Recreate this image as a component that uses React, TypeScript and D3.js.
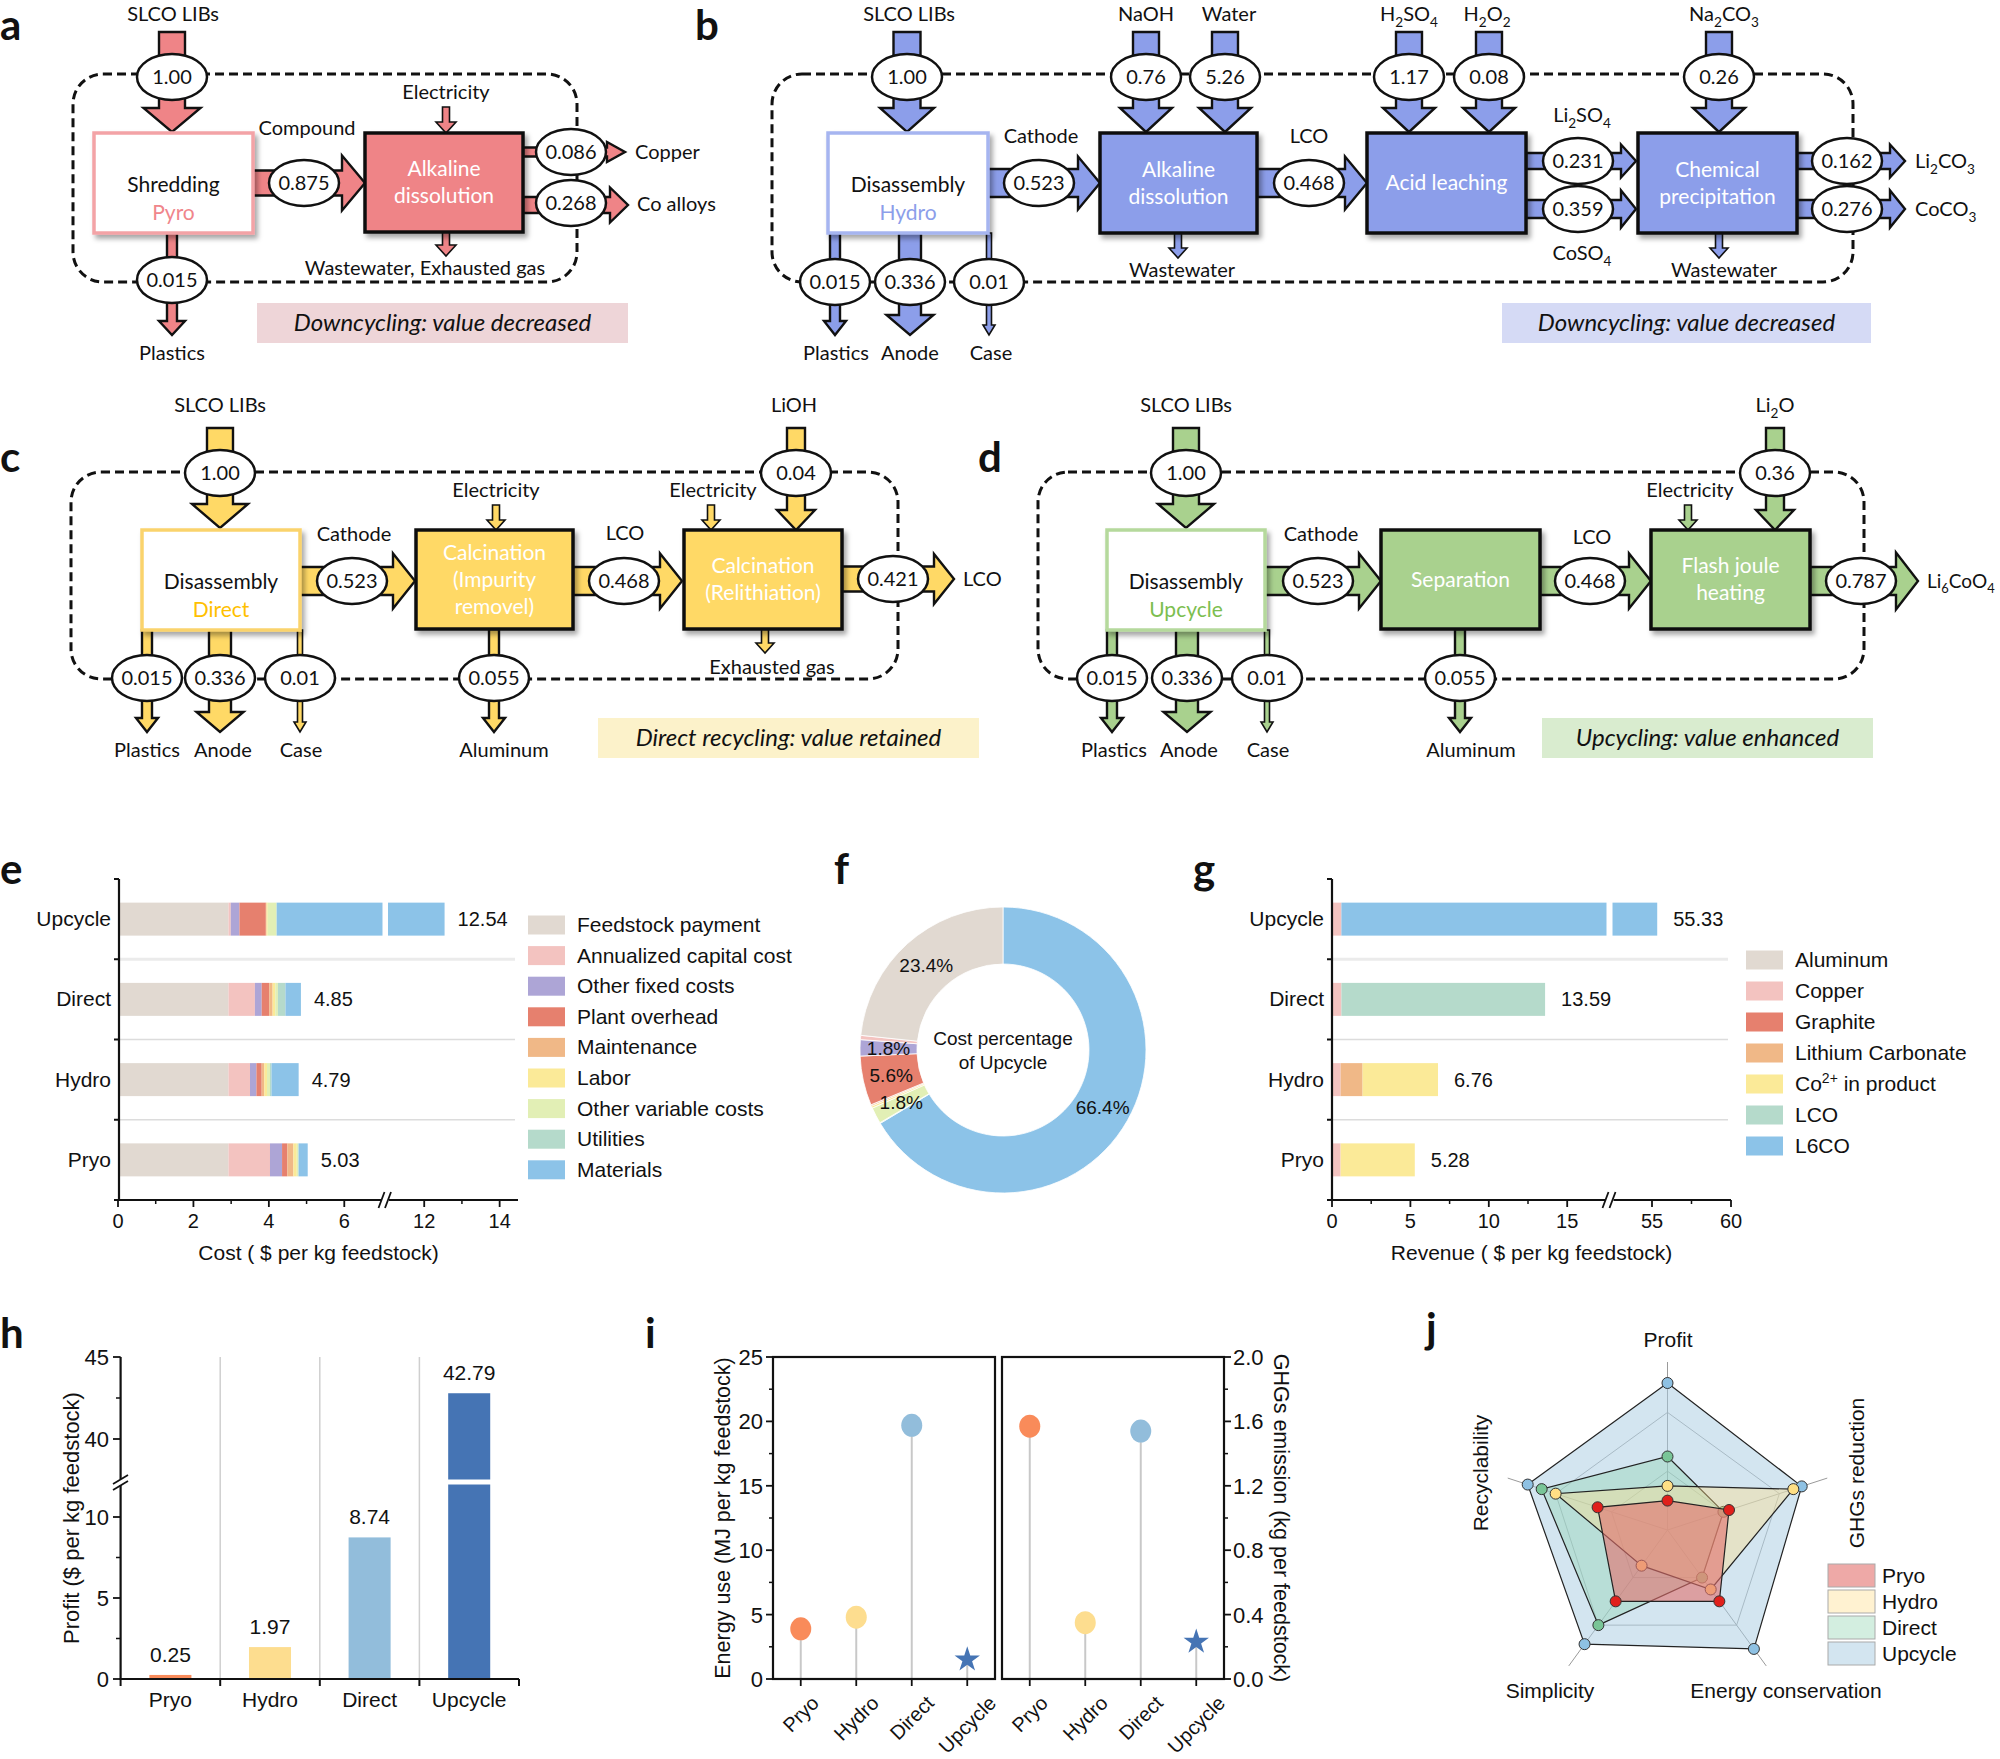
import React from "react";
import * as d3 from "d3";

const FLOW_FONT = "Lato, 'Open Sans', sans-serif";
const CHART_FONT = "'Liberation Sans', Arial, Helvetica, sans-serif";

// ---------------- Data ----------------
const methodsTopDown = ["Upcycle", "Direct", "Hydro", "Pryo"];
const methodsLR = ["Pryo", "Hydro", "Direct", "Upcycle"];

const costCategories = ["Feedstock payment", "Annualized capital cost", "Other fixed costs", "Plant overhead", "Maintenance", "Labor", "Other variable costs", "Utilities", "Materials"];
const costColors = ["#E1D9D1", "#F3C3C0", "#ADA5D6", "#E6806E", "#F0B887", "#FBEA98", "#E2EFB5", "#B5DACB", "#8CC3E8"];
const costUpcycle = [2.93, 0.06, 0.23, 0.70, 0.02, 0.03, 0.23, 0.01, 8.33];
const costDirect = [2.93, 0.70, 0.18, 0.20, 0.09, 0.07, 0.07, 0.20, 0.41];
const costHydro = [2.93, 0.57, 0.17, 0.14, 0.07, 0.07, 0.08, 0.04, 0.72];
const costPryo = [2.93, 1.10, 0.32, 0.14, 0.16, 0.09, 0.04, 0.01, 0.24];
const costTotals = [12.54, 4.85, 4.79, 5.03];
const costTicksMajor = [0, 2, 4, 6, 12, 14];
const costTicksMinor = [1, 3, 5, 13];

const revenueCategories = ["Aluminum", "Copper", "Graphite", "Lithium Carbonate", "Co2+ in product", "LCO", "L6CO"];
const revenueColors = ["#E1D9D1", "#F3C3C0", "#E6806E", "#F0B887", "#FBEA98", "#B5DACB", "#8CC3E8"];
const revenueUpcycle = [0.05, 0.55, 0, 0, 0, 0, 54.73];
const revenueDirect = [0.05, 0.55, 0, 0, 0, 12.99, 0];
const revenueHydro = [0, 0.55, 0, 1.40, 4.81, 0, 0];
const revenuePryo = [0, 0.55, 0, 0, 4.73, 0, 0];
const revenueTotals = [55.33, 13.59, 6.76, 5.28];
const revenueTicksMajor = [0, 5, 10, 15, 55, 60];
const revenueTicksMinor = [2.5, 7.5, 12.5, 57.5];

const profitValues = [0.25, 1.97, 8.74, 42.79];
const methodColors = ["#F98B5A", "#FDDD8F", "#92BDDB", "#4574B4"];
const profitTicksMajor = [0, 5, 10, 40, 45];
const profitTicksMinor = [2.5, 7.5, 42.5];

const energyValues = [3.9, 4.8, 19.7, 1.5];
const ghgValues = [1.57, 0.35, 1.54, 0.23];
const energyTicks = [0, 5, 10, 15, 20, 25];
const ghgTicks = [0, 0.4, 0.8, 1.2, 1.6, 2.0];

const radarAxes = ["Profit", "GHGs reduction", "Energy conservation", "Simplicity", "Recyclability"];
const radarNames = ["Pryo", "Hydro", "Direct", "Upcycle"];
const radarPryo = [1.0, 2.2, 3.0, 3.0, 2.5];
const radarHydro = [1.5, 4.5, 2.5, 1.5, 4.0];
const radarDirect = [2.5, 2.0, 2.0, 4.0, 4.5];
const radarUpcycle = [5.0, 4.8, 5.0, 4.8, 5.0];
const radarFill = ["#E3706C", "#FFDE8C", "#91D4B2", "#A8CBE2"];
const radarFillOpacity = [0.6, 0.4, 0.4, 0.5];
const radarPointColor = ["#E0201B", "#FFDF85", "#79C597", "#8EC1E3"];

// ---------------- Flow diagram layouts ----------------
const panelA = {
  color: "#EF8487", light: "#F3A3A6", sub: "#F0868B", tagFill: "#EED5D8",
  frame: [73, 74, 504, 208],
  arrows: [
    ["d", 172, 32, 100, 26, 57, 24], ["d", 172, 233, 102, 10, 26, 14], ["r", 253, 183, 112, 25, 55, 23],
    ["d", 446, 107, 26, 7, 20, 11], ["d", 446, 232, 24, 7, 20, 11], ["r", 523, 152, 102, 9, 20, 18], ["r", 523, 205, 105, 16, 35, 18],
  ],
  boxes: [
    { x: 94, y: 133, w: 159, h: 100, outline: true, lines: ["Shredding"], sub: "Pyro" },
    { x: 365, y: 133, w: 158, h: 99, lines: ["Alkaline", "dissolution"] },
  ],
  ovals: [[172, 77, "1.00"], [172, 280, "0.015"], [304, 183, "0.875"], [571, 152, "0.086"], [571, 203, "0.268"]],
  texts: [["SLCO LIBs", 173, 21, "middle"], ["Compound", 307, 135, "middle"], ["Electricity", 446, 99, "middle"], ["Copper", 635, 159, "start"], ["Co alloys", 637, 211, "start"], ["Wastewater, Exhausted gas", 425, 275, "middle"], ["Plastics", 172, 360, "middle"]],
  tag: [257, 303, 371, 40, "Downcycling: value decreased"],
  letter: ["a", 0, 40],
};
const panelB = {
  color: "#8C9EEA", light: "#A6B5F0", sub: "#8C9EEA", tagFill: "#D5DAF5",
  frame: [772, 74, 1081, 208],
  arrows: [
    ["d", 907, 32, 100, 27, 54, 24], ["d", 1146, 32, 100, 26, 52, 24], ["d", 1225, 32, 100, 26, 52, 24], ["d", 1409, 32, 100, 26, 52, 24], ["d", 1489, 32, 100, 26, 52, 24], ["d", 1719, 32, 100, 26, 52, 24],
    ["d", 835, 233, 102, 10, 22, 14], ["d", 910, 233, 102, 22, 47, 20], ["d", 989, 233, 102, 5, 12, 10],
    ["r", 988, 183, 112, 28, 53, 22], ["r", 1257, 183, 110, 28, 53, 22],
    ["d", 1178, 233, 25, 7, 18, 10], ["d", 1719, 233, 25, 7, 18, 10],
    ["r", 1526, 161, 110, 16, 33, 15], ["r", 1526, 209, 110, 18, 37, 15],
    ["r", 1797, 161, 108, 16, 33, 15], ["r", 1797, 209, 108, 18, 37, 15],
  ],
  boxes: [
    { x: 828, y: 133, w: 160, h: 100, outline: true, lines: ["Disassembly"], sub: "Hydro" },
    { x: 1100, y: 133, w: 157, h: 100, lines: ["Alkaline", "dissolution"] },
    { x: 1367, y: 133, w: 159, h: 100, lines: ["Acid leaching"] },
    { x: 1638, y: 133, w: 159, h: 100, lines: ["Chemical", "precipitation"] },
  ],
  ovals: [[907, 77, "1.00"], [1146, 77, "0.76"], [1225, 77, "5.26"], [1409, 77, "1.17"], [1489, 77, "0.08"], [1719, 77, "0.26"],
    [835, 282, "0.015"], [910, 282, "0.336"], [989, 282, "0.01"], [1039, 183, "0.523"], [1309, 183, "0.468"],
    [1578, 161, "0.231"], [1578, 209, "0.359"], [1847, 161, "0.162"], [1847, 209, "0.276"]],
  texts: [["SLCO LIBs", 909, 21, "middle"], ["NaOH", 1146, 21, "middle"], ["Water", 1229, 21, "middle"], ["H2SO4", 1409, 21, "middle"], ["H2O2", 1487, 21, "middle"], ["Na2CO3", 1724, 21, "middle"],
    ["Cathode", 1041, 143, "middle"], ["LCO", 1309, 143, "middle"], ["Li2SO4", 1582, 122, "middle"], ["CoSO4", 1582, 260, "middle"],
    ["Wastewater", 1182, 277, "middle"], ["Wastewater", 1724, 277, "middle"], ["Li2CO3", 1915, 168, "start"], ["CoCO3", 1915, 216, "start"],
    ["Plastics", 836, 360, "middle"], ["Anode", 910, 360, "middle"], ["Case", 991, 360, "middle"]],
  tag: [1502, 303, 369, 40, "Downcycling: value decreased"],
  letter: ["b", 695, 40],
};
const panelC = {
  color: "#FFD966", light: "#FAD36C", sub: "#FFC000", tagFill: "#FCF2CA",
  frame: [71, 472, 827, 207],
  arrows: [
    ["d", 220, 428, 100, 26, 56, 24], ["d", 796, 428, 102, 18, 38, 20], ["d", 496, 505, 25, 7, 18, 10], ["d", 711, 505, 25, 7, 18, 10],
    ["d", 147, 630, 102, 10, 22, 14], ["d", 220, 630, 102, 22, 47, 20], ["d", 300, 630, 102, 5, 12, 10], ["d", 494, 629, 103, 10, 22, 14],
    ["r", 300, 581, 115, 28, 55, 22], ["r", 573, 581, 109, 28, 55, 22], ["d", 765, 629, 24, 7, 18, 10], ["r", 842, 579, 112, 25, 50, 20],
  ],
  boxes: [
    { x: 142, y: 530, w: 158, h: 100, outline: true, lines: ["Disassembly"], sub: "Direct" },
    { x: 416, y: 530, w: 157, h: 99, lines: ["Calcination", "(Impurity", "removel)"] },
    { x: 684, y: 530, w: 158, h: 99, lines: ["Calcination", "(Relithiation)"] },
  ],
  ovals: [[220, 473, "1.00"], [796, 473, "0.04"], [147, 678, "0.015"], [220, 678, "0.336"], [300, 678, "0.01"], [494, 678, "0.055"], [352, 581, "0.523"], [624, 581, "0.468"], [893, 579, "0.421"]],
  texts: [["SLCO LIBs", 220, 412, "middle"], ["LiOH", 794, 412, "middle"], ["Electricity", 496, 497, "middle"], ["Electricity", 713, 497, "middle"],
    ["Cathode", 354, 541, "middle"], ["LCO", 625, 540, "middle"], ["Exhausted gas", 772, 674, "middle"], ["LCO", 963, 586, "start"],
    ["Plastics", 147, 757, "middle"], ["Anode", 223, 757, "middle"], ["Case", 301, 757, "middle"], ["Aluminum", 504, 757, "middle"]],
  tag: [598, 718, 381, 40, "Direct recycling: value retained"],
  letter: ["c", 0, 472],
};
const panelD = {
  color: "#A9D18E", light: "#B5D99C", sub: "#7CBE50", tagFill: "#D9ECCF",
  frame: [1038, 472, 826, 207],
  arrows: [
    ["d", 1186, 428, 100, 26, 56, 24], ["d", 1775, 428, 102, 18, 38, 20], ["d", 1688, 505, 25, 7, 18, 10],
    ["d", 1112, 630, 102, 10, 22, 14], ["d", 1187, 630, 102, 22, 47, 20], ["d", 1267, 630, 102, 5, 12, 10], ["d", 1460, 629, 103, 10, 22, 14],
    ["r", 1265, 581, 116, 28, 55, 22], ["r", 1540, 581, 111, 28, 55, 22], ["r", 1810, 581, 108, 28, 57, 22],
  ],
  boxes: [
    { x: 1107, y: 530, w: 158, h: 100, outline: true, lines: ["Disassembly"], sub: "Upcycle" },
    { x: 1381, y: 530, w: 159, h: 99, lines: ["Separation"] },
    { x: 1651, y: 530, w: 159, h: 99, lines: ["Flash joule", "heating"] },
  ],
  ovals: [[1186, 473, "1.00"], [1775, 473, "0.36"], [1112, 678, "0.015"], [1187, 678, "0.336"], [1267, 678, "0.01"], [1460, 678, "0.055"], [1318, 581, "0.523"], [1590, 581, "0.468"], [1861, 581, "0.787"]],
  texts: [["SLCO LIBs", 1186, 412, "middle"], ["Li2O", 1775, 412, "middle"], ["Electricity", 1690, 497, "middle"], ["Cathode", 1321, 541, "middle"], ["LCO", 1592, 544, "middle"],
    ["Li6CoO4", 1927, 588, "start", 19], ["Plastics", 1114, 757, "middle"], ["Anode", 1189, 757, "middle"], ["Case", 1268, 757, "middle"], ["Aluminum", 1471, 757, "middle"]],
  tag: [1542, 718, 331, 40, "Upcycling: value enhanced"],
  letter: ["d", 978, 472],
};

// ---------------- helpers ----------------
function arrowPath(a: any[]) {
  const [d, x, y, len, sw, hw, hl] = a;
  if (d === "d") {
    const y1 = y + len, yh = y1 - hl;
    return `M${x - sw / 2},${y}H${x + sw / 2}V${yh}H${x + hw / 2}L${x},${y1}L${x - hw / 2},${yh}H${x - sw / 2}Z`;
  }
  const x1 = x + len, xh = x1 - hl;
  return `M${x},${y - sw / 2}H${xh}V${y - hw / 2}L${x1},${y}L${xh},${y + hw / 2}V${y + sw / 2}H${x}Z`;
}

function chem(s: string, fs: number) {
  const parts = s.match(/\d+|\D+/g) || [];
  let down = false;
  return parts.map((p, i) => {
    if (/^\d+$/.test(p)) {
      const el = <tspan key={i} dy={down ? 0 : fs * 0.28} fontSize={fs * 0.68}>{p}</tspan>;
      down = true;
      return el;
    }
    const el = <tspan key={i} dy={down ? -fs * 0.28 : 0}>{p}</tspan>;
    down = false;
    return el;
  });
}

let _ctx: any = null;
function measure(text: string, font: string) {
  if (!_ctx) _ctx = document.createElement("canvas").getContext("2d");
  _ctx.font = font;
  return _ctx.measureText(text).width;
}

function FlowPanel({ p }: any) {
  const [fx, fy, fw, fh] = p.frame;
  return (
    <g fontFamily={FLOW_FONT} fill="#111">
      <rect x={fx} y={fy} width={fw} height={fh} rx={30} fill="none" stroke="#111" strokeWidth={3} strokeDasharray="9 5" />
      {p.arrows.map((a: any, i: number) => (
        <path key={i} d={arrowPath(a)} fill={p.color} stroke="#111" strokeWidth={a[4] <= 7 ? 1.6 : 2.4} />
      ))}
      {p.boxes.map((b: any, i: number) => {
        const cx = b.x + b.w / 2, cy = b.y + b.h / 2;
        if (b.outline) {
          return (
            <g key={i}>
              <rect x={b.x} y={b.y} width={b.w} height={b.h} fill="#fff" stroke={p.light} strokeWidth={3.5} filter="url(#shadow)" />
              <text x={cx} y={cy + 9} textAnchor="middle" fontSize={21} fill="#111">{b.lines[0]}</text>
              <text x={cx} y={cy + 37} textAnchor="middle" fontSize={21} fill={p.sub}>{b.sub}</text>
            </g>
          );
        }
        const n = b.lines.length;
        return (
          <g key={i}>
            <rect x={b.x} y={b.y} width={b.w} height={b.h} fill={p.color} stroke="#111" strokeWidth={3.5} filter="url(#shadow)" />
            {b.lines.map((l: string, j: number) => (
              <text key={j} x={cx} y={cy - (n - 1) * 13.5 + j * 27 + 7} textAnchor="middle" fontSize={21} fill="#fff">{l}</text>
            ))}
          </g>
        );
      })}
      {p.ovals.map((o: any, i: number) => (
        <g key={i}>
          <ellipse cx={o[0]} cy={o[1]} rx={35} ry={23} fill="#fff" stroke="#111" strokeWidth={2.5} />
          <text x={o[0]} y={o[1] + 7} textAnchor="middle" fontSize={20}>{o[2]}</text>
        </g>
      ))}
      {p.texts.map((t: any, i: number) => (
        <text key={i} x={t[1]} y={t[2]} textAnchor={t[3]} fontSize={t[4] || 20}>{chem(t[0], t[4] || 20)}</text>
      ))}
      <rect x={p.tag[0]} y={p.tag[1]} width={p.tag[2]} height={p.tag[3]} fill={p.tagFill} />
      <text x={p.tag[0] + p.tag[2] / 2} y={p.tag[1] + p.tag[3] / 2 + 8} textAnchor="middle" fontSize={24} fontStyle="italic">{p.tag[4]}</text>
      <text x={p.letter[1]} y={p.letter[2]} fontSize={42} fontWeight="bold">{p.letter[0]}</text>
    </g>
  );
}

// ---------------- Stacked bar chart (e, g) ----------------
function StackedBars({ categories, colors, series, totals, seg1, seg2, gap, axisX0, axisX1, ticksMajor, ticksMinor, labelOffset, title, legendX, legendY0, legendStep, letter, letterX }: any) {
  const y = d3.scaleBand().domain(methodsTopDown).range([879, 1200]).paddingInner(0.589).paddingOuter(0.2945);
  const x1 = d3.scaleLinear().domain(seg1[0]).range(seg1[1]);
  const x2 = d3.scaleLinear().domain(seg2[0]).range(seg2[1]);
  const sx = (v: number) => (v <= seg1[0][1] ? x1(v) : v < seg2[0][0] ? x1(seg1[0][1]) : x2(v));
  const rows = methodsTopDown.map((m, i) => {
    const o: any = { method: m };
    categories.forEach((c: string, j: number) => (o[c] = series[i][j]));
    return o;
  });
  const stacked = d3.stack().keys(categories)(rows);
  const bw = y.bandwidth();
  const step = y.step();
  return (
    <g fontFamily={CHART_FONT} fill="#111">
      {[1, 2, 3].map((k) => (
        <line key={k} x1={axisX0 + 1} x2={axisX1 - 3} y1={879 + step * k} y2={879 + step * k} stroke={k === 1 ? "#EBEBEB" : "#DCDCDC"} strokeWidth={k === 1 ? 3 : 1.5} />
      ))}
      {stacked.map((layer: any, li: number) =>
        layer.map((d: any, di: number) => {
          const xa = sx(d[0]), xb = sx(d[1]);
          if (xb - xa <= 0) return null;
          return <rect key={`${li}-${di}`} x={xa} y={y(methodsTopDown[di])} width={xb - xa} height={bw} fill={colors[li]} />;
        })
      )}
      {totals.map((t: number, i: number) =>
        t > seg1[0][1] ? <rect key={`g${i}`} x={gap[0]} y={y(methodsTopDown[i])! - 1} width={gap[1] - gap[0]} height={bw + 2} fill="#fff" /> : null
      )}
      {totals.map((t: number, i: number) => (
        <text key={`t${i}`} x={sx(t) + labelOffset} y={y(methodsTopDown[i])! + bw / 2 + 7} fontSize={20}>{t.toFixed(2)}</text>
      ))}
      {methodsTopDown.map((m) => (
        <text key={m} x={axisX0 - 8} y={y(m)! + bw / 2 + 7} textAnchor="end" fontSize={21}>{m}</text>
      ))}
      <line x1={axisX0} x2={axisX0} y1={879} y2={1201} stroke="#111" strokeWidth={2.2} />
      {[0, 1, 2, 3, 4].map((k) => (
        <line key={k} x1={axisX0 - 5} x2={axisX0} y1={879 + step * k} y2={879 + step * k} stroke="#111" strokeWidth={2} />
      ))}
      <line x1={axisX0 - 1} x2={axisX1} y1={1200} y2={1200} stroke="#111" strokeWidth={2.2} />
      {ticksMajor.map((t: number) => (
        <g key={t}>
          <line x1={sx(t)} x2={sx(t)} y1={1200} y2={1207} stroke="#111" strokeWidth={1.8} />
          <text x={sx(t)} y={1228} textAnchor="middle" fontSize={20}>{t}</text>
        </g>
      ))}
      {ticksMinor.map((t: number) => (
        <line key={t} x1={sx(t)} x2={sx(t)} y1={1200} y2={1204} stroke="#111" strokeWidth={1.5} />
      ))}
      <rect x={gap[0] - 1} y={1195} width={gap[1] - gap[0] + 2} height={10} fill="#fff" />
      <line x1={gap[0] - 4} y1={1208} x2={gap[0] + 2} y2={1192} stroke="#111" strokeWidth={1.8} />
      <line x1={gap[1] - 3} y1={1208} x2={gap[1] + 3} y2={1192} stroke="#111" strokeWidth={1.8} />
      <text x={(axisX0 + axisX1) / 2} y={1260} textAnchor="middle" fontSize={21}>{title}</text>
      {categories.map((c: string, i: number) => (
        <g key={c}>
          <rect x={legendX} y={legendY0 + legendStep * i - 9.5} width={37} height={19} fill={colors[i]} />
          <text x={legendX + 49} y={legendY0 + legendStep * i + 7} fontSize={21}>
            {c === "Co2+ in product" ? (<>Co<tspan dy={-8} fontSize={14}>2+</tspan><tspan dy={8}> in product</tspan></>) : c}
          </text>
        </g>
      ))}
      <text x={letterX} y={884} fontSize={42} fontWeight="bold" fontFamily={FLOW_FONT}>{letter}</text>
    </g>
  );
}

// ---------------- Donut (f) ----------------
function Donut() {
  const cx = 1003, cy = 1050;
  const data = costCategories.map((c, i) => ({ c, v: costUpcycle[i], color: costColors[i] })).reverse();
  const total = d3.sum(costUpcycle);
  const arcs = d3.pie<any>().sort(null).value((d: any) => d.v).startAngle(0).endAngle(2 * Math.PI)(data);
  const arcGen: any = d3.arc().innerRadius(86).outerRadius(143);
  const labelArc: any = d3.arc().innerRadius(114.5).outerRadius(114.5);
  return (
    <g fontFamily={CHART_FONT} fill="#111">
      <g transform={`translate(${cx},${cy})`}>
        {arcs.map((a: any, i: number) => (
          <path key={i} d={arcGen(a)} fill={a.data.color} stroke="#fff" strokeWidth={0.8} />
        ))}
        {arcs.map((a: any, i: number) => {
          const pct = (a.data.v / total) * 100;
          if (pct < 1.5) return null;
          const [lx, ly] = labelArc.centroid(a);
          return <text key={`l${i}`} x={lx} y={ly + 7} textAnchor="middle" fontSize={19}>{pct.toFixed(1)}%</text>;
        })}
        <text x={0} y={-5} textAnchor="middle" fontSize={19}>Cost percentage</text>
        <text x={0} y={19} textAnchor="middle" fontSize={19}>of Upcycle</text>
      </g>
      <text x={834} y={884} fontSize={42} fontWeight="bold" fontFamily={FLOW_FONT}>f</text>
    </g>
  );
}

// ---------------- Profit bars (h) ----------------
function ProfitBars() {
  const x = d3.scaleBand().domain(methodsLR).range([120.6, 519]).paddingInner(0.578).paddingOuter(0.289);
  const yLow = d3.scaleLinear().domain([0, 12]).range([1679, 1484.6]);
  const yHigh = d3.scaleLinear().domain([37.5, 45]).range([1480, 1357]);
  const sy = (v: number) => (v <= 12 ? yLow(v) : v >= 37.5 ? yHigh(v) : 1482);
  const step = x.step();
  return (
    <g fontFamily={CHART_FONT} fill="#111">
      {[1, 2, 3].map((k) => (
        <line key={k} x1={120.6 + step * k} x2={120.6 + step * k} y1={1357} y2={1679} stroke="#CFCFCF" strokeWidth={1.5} />
      ))}
      {methodsLR.map((m, i) => (
        <g key={m}>
          <rect x={x(m)} y={sy(profitValues[i])} width={x.bandwidth()} height={1679 - sy(profitValues[i])} fill={methodColors[i]} />
          {profitValues[i] > 12 ? <rect x={x(m)! - 1} y={1479.5} width={x.bandwidth() + 2} height={5} fill="#fff" /> : null}
          <text x={x(m)! + x.bandwidth() / 2} y={sy(profitValues[i]) - 13} textAnchor="middle" fontSize={21}>{profitValues[i].toFixed(2)}</text>
          <text x={x(m)! + x.bandwidth() / 2} y={1707} textAnchor="middle" fontSize={21}>{m}</text>
        </g>
      ))}
      <line x1={120.6} x2={120.6} y1={1357} y2={1680} stroke="#111" strokeWidth={2.2} />
      <line x1={119.5} x2={519} y1={1679} y2={1679} stroke="#111" strokeWidth={2.2} />
      {[0, 1, 2, 3, 4].map((k) => (
        <line key={k} x1={120.6 + step * k} x2={120.6 + step * k} y1={1679} y2={1686} stroke="#111" strokeWidth={2} />
      ))}
      {profitTicksMajor.map((t) => (
        <g key={t}>
          <line x1={113} x2={120.6} y1={sy(t)} y2={sy(t)} stroke="#111" strokeWidth={1.8} />
          <text x={109} y={sy(t) + 8} textAnchor="end" fontSize={22}>{t}</text>
        </g>
      ))}
      {profitTicksMinor.map((t) => (
        <line key={t} x1={116} x2={120.6} y1={sy(t)} y2={sy(t)} stroke="#111" strokeWidth={1.5} />
      ))}
      <rect x={115} y={1479} width={12} height={6} fill="#fff" />
      <line x1={113} y1={1484} x2={128} y2={1475} stroke="#111" strokeWidth={1.8} />
      <line x1={113} y1={1490} x2={128} y2={1481} stroke="#111" strokeWidth={1.8} />
      <text transform="translate(71,1518) rotate(-90)" textAnchor="middle" dy="0.35em" fontSize={22}>Profit ($ per kg feedstock)</text>
      <text x={0} y={1348} fontSize={42} fontWeight="bold" fontFamily={FLOW_FONT}>h</text>
    </g>
  );
}

// ---------------- Lollipop (i) ----------------
function Lollipops() {
  const yL = d3.scaleLinear().domain([0, 25]).range([1679, 1357]);
  const yR = d3.scaleLinear().domain([0, 2]).range([1679, 1357]);
  const xL = d3.scalePoint().domain(methodsLR).range([773, 995]).padding(0.5);
  const xR = d3.scalePoint().domain(methodsLR).range([1002, 1224]).padding(0.5);
  const star = d3.symbol().type(d3.symbolStar).size(200)();
  const lblFont = `20px ${CHART_FONT}`;
  const panels = [
    { x: xL, y: yL, vals: energyValues },
    { x: xR, y: yR, vals: ghgValues },
  ];
  return (
    <g fontFamily={CHART_FONT} fill="#111">
      {panels.map((p, pi) => (
        <g key={pi}>
          {methodsLR.map((m, i) => {
            const px = p.x(m)!, py = p.y(p.vals[i]);
            const L = measure(m, lblFont);
            const cyText = 1693 + (L + 18) * 0.354;
            return (
              <g key={m}>
                <line x1={px} x2={px} y1={1679} y2={py} stroke="#C8C8C8" strokeWidth={2} />
                {m === "Upcycle" ? (
                  <path d={star!} transform={`translate(${px},${py})`} fill={methodColors[i]} />
                ) : (
                  <ellipse cx={px} cy={py} rx={10.5} ry={11.5} fill={methodColors[i]} />
                )}
                <line x1={px} x2={px} y1={1679} y2={1686} stroke="#111" strokeWidth={1.8} />
                <text transform={`translate(${px},${cyText}) rotate(-45)`} textAnchor="middle" dy="0.35em" fontSize={20}>{m}</text>
              </g>
            );
          })}
        </g>
      ))}
      <rect x={773} y={1357} width={222} height={322} fill="none" stroke="#111" strokeWidth={2.2} />
      <rect x={1002} y={1357} width={222} height={322} fill="none" stroke="#111" strokeWidth={2.2} />
      {energyTicks.map((t) => (
        <g key={t}>
          <line x1={766} x2={773} y1={yL(t)} y2={yL(t)} stroke="#111" strokeWidth={1.8} />
          <text x={763} y={yL(t) + 8} textAnchor="end" fontSize={22}>{t}</text>
        </g>
      ))}
      {energyTicks.slice(0, -1).map((t) => (
        <line key={`m${t}`} x1={769} x2={773} y1={yL(t + 2.5)} y2={yL(t + 2.5)} stroke="#111" strokeWidth={1.5} />
      ))}
      {ghgTicks.map((t) => (
        <g key={t}>
          <line x1={1224} x2={1231} y1={yR(t)} y2={yR(t)} stroke="#111" strokeWidth={1.8} />
          <text x={1233} y={yR(t) + 8} textAnchor="start" fontSize={22}>{t.toFixed(1)}</text>
        </g>
      ))}
      {ghgTicks.slice(0, -1).map((t) => (
        <line key={`m${t}`} x1={1224} x2={1228} y1={yR(t + 0.2)} y2={yR(t + 0.2)} stroke="#111" strokeWidth={1.5} />
      ))}
      <text transform="translate(722,1518) rotate(-90)" textAnchor="middle" dy="0.35em" fontSize={21.5}>Energy use (MJ per kg feedstock)</text>
      <text transform="translate(1282,1518) rotate(90)" textAnchor="middle" dy="0.35em" fontSize={21.5}>GHGs emission (kg per feedstock)</text>
      <text x={645} y={1348} fontSize={42} fontWeight="bold" fontFamily={FLOW_FONT}>i</text>
    </g>
  );
}

// ---------------- Radar (j) ----------------
function Radar() {
  const cx = 1667.5, cy = 1530;
  const r = d3.scaleLinear().domain([0, 5]).range([0, 147]);
  const ang = radarAxes.map((_, i) => -Math.PI / 2 + (i * 2 * Math.PI) / 5);
  const pt = (v: number, i: number) => [cx + r(v) * Math.cos(ang[i]), cy + r(v) * Math.sin(ang[i])];
  const series = [radarPryo, radarHydro, radarDirect, radarUpcycle];
  const order = [3, 2, 1, 0];
  const poly = (vals: number[]) => vals.map((v, i) => pt(v, i).join(",")).join(" ");
  return (
    <g fontFamily={CHART_FONT} fill="#111">
      {[2, 4].map((g) => (
        <polygon key={g} points={poly([g, g, g, g, g])} fill="none" stroke="#A8A8A8" strokeWidth={1} />
      ))}
      {ang.map((a, i) => (
        <line key={i} x1={cx} y1={cy} x2={cx + 168 * Math.cos(a)} y2={cy + 168 * Math.sin(a)} stroke="#9A9A9A" strokeWidth={1} />
      ))}
      {order.map((si) => (
        <g key={`s${si}`}>
          <polygon points={poly(series[si])} fill={radarFill[si]} fillOpacity={radarFillOpacity[si]} stroke="#222" strokeWidth={1.2} />
          {series[si].map((v, i) => {
            const [px, py] = pt(v, i);
            return <circle key={i} cx={px} cy={py} r={5.5} fill={radarPointColor[si]} stroke="#333" strokeWidth={1} />;
          })}
        </g>
      ))}
      <text x={1668} y={1347} textAnchor="middle" fontSize={21}>Profit</text>
      <text transform="translate(1857,1473) rotate(-90)" textAnchor="middle" dy="0.35em" fontSize={21}>GHGs reduction</text>
      <text transform="translate(1481,1473) rotate(-90)" textAnchor="middle" dy="0.35em" fontSize={21}>Recyclability</text>
      <text x={1550} y={1698} textAnchor="middle" fontSize={21}>Simplicity</text>
      <text x={1786} y={1698} textAnchor="middle" fontSize={21}>Energy conservation</text>
      {radarNames.map((n, i) => (
        <g key={n}>
          <rect x={1828} y={1564 + 26 * i} width={47} height={23} fill={radarFill[i]} fillOpacity={radarFillOpacity[i]} stroke="#AAAAAA" strokeWidth={1} />
          <text x={1882} y={1583 + 26 * i} fontSize={21}>{n}</text>
        </g>
      ))}
      <text x={1426} y={1343} fontSize={42} fontWeight="bold" fontFamily={FLOW_FONT}>j</text>
    </g>
  );
}

export default function App() {
  return (
    <svg width={2000} height={1759} style={{ position: "absolute", left: 0, top: 0, background: "#fff" }} xmlns="http://www.w3.org/2000/svg">
      <defs>
        <filter id="shadow" x="-15%" y="-15%" width="140%" height="140%">
          <feDropShadow dx="3" dy="4" stdDeviation="2.5" floodColor="#000" floodOpacity="0.35" />
        </filter>
      </defs>
      <rect x={0} y={0} width={2000} height={1759} fill="#fff" />
      <FlowPanel p={panelA} />
      <FlowPanel p={panelB} />
      <FlowPanel p={panelC} />
      <FlowPanel p={panelD} />
      <StackedBars
        categories={costCategories} colors={costColors}
        series={[costUpcycle, costDirect, costHydro, costPryo]} totals={costTotals}
        seg1={[[0, 7], [118, 382]]} seg2={[[11, 14.5], [386.5, 518.5]]} gap={[382.5, 388]}
        axisX0={119} axisX1={518} ticksMajor={costTicksMajor} ticksMinor={costTicksMinor}
        labelOffset={13} title="Cost ( $ per kg feedstock)"
        legendX={528} legendY0={925} legendStep={30.6} letter="e" letterX={0}
      />
      <Donut />
      <StackedBars
        categories={revenueCategories} colors={revenueColors}
        series={[revenueUpcycle, revenueDirect, revenueHydro, revenuePryo]} totals={revenueTotals}
        seg1={[[0, 17.5], [1332, 1606.4]]} seg2={[[52.5, 60], [1612.5, 1731]]} gap={[1606.5, 1612.5]}
        axisX0={1332} axisX1={1731} ticksMajor={revenueTicksMajor} ticksMinor={revenueTicksMinor}
        labelOffset={16} title="Revenue ( $ per kg feedstock)"
        legendX={1746} legendY0={960} legendStep={31} letter="g" letterX={1193}
      />
      <ProfitBars />
      <Lollipops />
      <Radar />
    </svg>
  );
}
